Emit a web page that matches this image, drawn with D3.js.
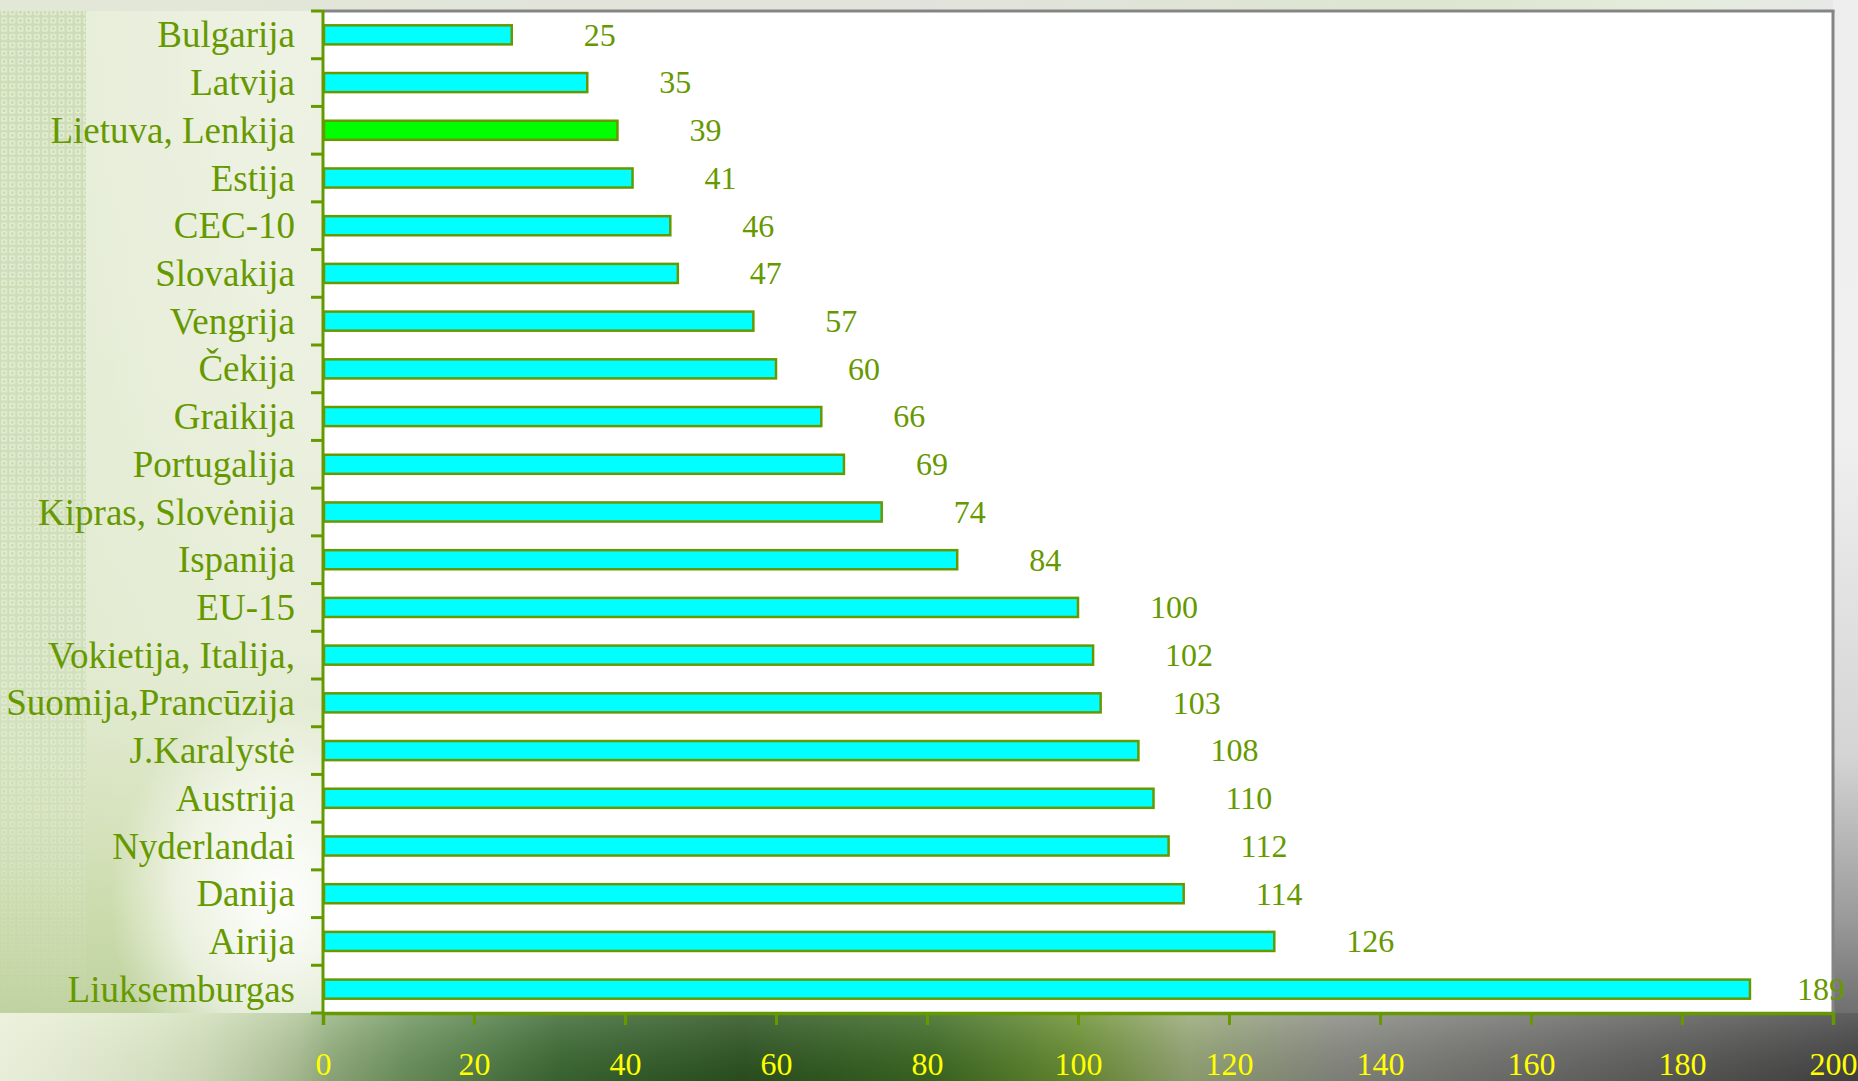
<!DOCTYPE html>
<html><head><meta charset="utf-8">
<script src="https://cdn.jsdelivr.net/npm/d3@7"></script>
<style>html,body{margin:0;padding:0;overflow:hidden;background:#eef2e6}</style>
</head><body>
<script>
const categories = ["Bulgarija","Latvija","Lietuva, Lenkija","Estija","CEC-10","Slovakija","Vengrija","Čekija","Graikija","Portugalija","Kipras, Slovėnija","Ispanija","EU-15","Vokietija, Italija,","Suomija,Prancūzija","J.Karalystė","Austrija","Nyderlandai","Danija","Airija","Liuksemburgas"];
const values = [25,35,39,41,46,47,57,60,66,69,74,84,100,102,103,108,110,112,114,126,189];
const highlighted = ["Lietuva, Lenkija"];
const xTicks = [0,20,40,60,80,100,120,140,160,180,200];

const W = 1858, H = 1081;
const L = 323, R = 1833, T = 11, B = 1013;
const green = "#669900";

const svg = d3.select("body").append("svg").attr("width", W).attr("height", H);
const defs = svg.append("defs");

function lg(id, x1, y1, x2, y2, stops) {
  const g = defs.append("linearGradient").attr("id", id)
    .attr("x1", x1).attr("y1", y1).attr("x2", x2).attr("y2", y2);
  stops.forEach(s => g.append("stop").attr("offset", s[0]).attr("stop-color", s[1]).attr("stop-opacity", s[2] === undefined ? 1 : s[2]));
}
function rg(id, cx, cy, r, stops) {
  const g = defs.append("radialGradient").attr("id", id).attr("cx", cx).attr("cy", cy).attr("r", r);
  stops.forEach(s => g.append("stop").attr("offset", s[0]).attr("stop-color", s[1]).attr("stop-opacity", s[2] === undefined ? 1 : s[2]));
}

// background gradients
lg("bgMain", 0, 0, 1, 0, [[0, "#e4ecd4"], [0.15, "#eef2e4"], [0.5, "#ececea"], [0.8, "#e6e8e2"], [1, "#e8e8e8"]]);
lg("leftV", 0, 0, 0, 1, [[0, "#e6eed8", 0], [0.6, "#d8e4c0", 0.3], [0.85, "#c4d6a0", 0.8], [1, "#b0c890", 0.9]]);
lg("bottomBand", 0, 0, 1, 0, [[0, "#dfe8c8"], [0.08, "#cddcb0"], [0.16, "#a9c090"], [0.22, "#6f9760"], [0.3, "#3d6c34"], [0.4, "#2c5420"], [0.5, "#3b6a22"], [0.58, "#6c9232"], [0.64, "#99aa78"], [0.72, "#8a8c84"], [0.85, "#6a6a68"], [1, "#444444"]]);
lg("bottomV", 0, 0, 0, 1, [[0, "#ffffff", 0.15], [1, "#000000", 0.1]]);
lg("rightStrip", 0, 0, 0, 1, [[0, "#eeeeee"], [0.4, "#f0f0f0"], [0.7, "#d4d4d4"], [0.85, "#9a9a9a"], [1, "#505050"]]);
lg("topStrip", 0, 0, 1, 0, [[0, "#e2e8d6"], [0.5, "#e2e2dc"], [0.78, "#dde6d0"], [0.9, "#e4ecdc"], [1, "#e8e8e8"]]);
rg("glow", 0.5, 0.5, 0.5, [[0, "#ffffff", 1], [0.6, "#ffffff", 0.6], [1, "#ffffff", 0]]);

const pat = defs.append("pattern").attr("id", "grid").attr("width", 8.2).attr("height", 8.2).attr("patternUnits", "userSpaceOnUse");
pat.append("rect").attr("width", 8.2).attr("height", 8.2).attr("fill", "#cddcb6");
pat.append("rect").attr("x", 1.3).attr("y", 1.3).attr("width", 5.6).attr("height", 5.6).attr("fill", "#e4eed6");
pat.append("rect").attr("x", 2.8).attr("y", 2.8).attr("width", 2.6).attr("height", 2.6).attr("fill", "#c8d8ae");
lg("gridFade", 0, 0, 0, 1, [[0, "#fff", 1], [0.6, "#fff", 0.85], [0.95, "#fff", 0]]);
const mask = defs.append("mask").attr("id", "gridMask");
mask.append("rect").attr("x", 0).attr("y", 0).attr("width", 86).attr("height", 1081).attr("fill", "url(#gridFade)");

svg.append("rect").attr("width", W).attr("height", H).attr("fill", "url(#bgMain)");
svg.append("rect").attr("x", 0).attr("y", 0).attr("width", L).attr("height", H).attr("fill", "url(#leftV)");
svg.append("rect").attr("x", 0).attr("y", 0).attr("width", 86).attr("height", 1081).attr("fill", "url(#grid)").attr("mask", "url(#gridMask)");
svg.append("ellipse").attr("cx", 280).attr("cy", 900).attr("rx", 170).attr("ry", 200).attr("fill", "url(#glow)");
svg.append("rect").attr("x", 0).attr("y", 0).attr("width", W).attr("height", T).attr("fill", "url(#topStrip)");
svg.append("rect").attr("x", R).attr("y", 0).attr("width", W - R).attr("height", H).attr("fill", "url(#rightStrip)");
svg.append("rect").attr("x", 0).attr("y", B).attr("width", W).attr("height", H - B).attr("fill", "url(#bottomBand)");
svg.append("rect").attr("x", 0).attr("y", B).attr("width", W).attr("height", H - B).attr("fill", "url(#bottomV)");
lg("blFade", 0, 0, 1, 0, [[0, "#eef2e0", 0.85], [0.6, "#e6eed6", 0.5], [1, "#e6eed6", 0]]);
svg.append("rect").attr("x", 0).attr("y", B).attr("width", 330).attr("height", H - B).attr("fill", "url(#blFade)");

// plot area
svg.append("rect").attr("x", L).attr("y", T).attr("width", R - L).attr("height", B - T).attr("fill", "#ffffff");
svg.append("line").attr("x1", L).attr("x2", R + 1.5).attr("y1", T).attr("y2", T).attr("stroke", "#858585").attr("stroke-width", 3);
svg.append("line").attr("x1", R).attr("x2", R).attr("y1", T).attr("y2", B).attr("stroke", "#858585").attr("stroke-width", 3);

const x = d3.scaleLinear().domain([0, 200]).range([L, R]);
const y = d3.scaleBand().domain(categories).range([T, B]).paddingInner(0).paddingOuter(0);
const step = y.step();

// bars
svg.append("g").selectAll("rect").data(categories).join("rect")
  .attr("x", x(0) + 1)
  .attr("y", c => y(c) + step * 0.3)
  .attr("width", (c, i) => x(values[i]) - x(0) - 1)
  .attr("height", step * 0.4)
  .attr("fill", c => highlighted.includes(c) ? "#00ff00" : "#00ffff")
  .attr("stroke", green).attr("stroke-width", 2.5);

// y axis (ticks at band boundaries)
const yg = svg.append("g");
yg.append("line").attr("x1", L).attr("x2", L).attr("y1", T - 1).attr("y2", B + 1).attr("stroke", green).attr("stroke-width", 3);
const bounds = categories.map(c => y(c)).concat([B]);
yg.selectAll("line.t").data(bounds).join("line").attr("class", "t")
  .attr("x1", L - 12).attr("x2", L).attr("y1", d => d).attr("y2", d => d)
  .attr("stroke", green).attr("stroke-width", 3);
yg.selectAll("text").data(categories).join("text")
  .attr("x", 295).attr("y", c => y(c) + step / 2).attr("dy", "0.34em")
  .attr("text-anchor", "end")
  .attr("font-family", "'Liberation Serif', 'Times New Roman', serif")
  .attr("font-size", 37).attr("fill", green)
  .text(c => c);

// x axis
const xAxis = d3.axisBottom(x).tickValues(xTicks).tickSize(12).tickPadding(0).tickFormat(d3.format("d"));
const xg = svg.append("g").attr("transform", `translate(0,${B})`).call(xAxis);
xg.select(".domain").attr("stroke", green).attr("stroke-width", 3.5);
xg.selectAll(".tick line").attr("stroke", green).attr("stroke-width", 3);
xg.selectAll(".tick text")
  .attr("y", 62).attr("dy", 0)
  .attr("font-family", "'Liberation Serif', 'Times New Roman', serif")
  .attr("font-size", 32).attr("fill", "#ffff00");

// value labels (kept inside the picture)
svg.append("g").selectAll("text").data(categories).join("text")
  .attr("x", (c, i) => Math.min(x(values[i]) + 72, 1797))
  .attr("y", c => y(c) + step / 2).attr("dy", "0.34em")
  .attr("font-family", "'Liberation Serif', 'Times New Roman', serif")
  .attr("font-size", 32).attr("fill", green)
  .text((c, i) => values[i]);
</script>
</body></html>
